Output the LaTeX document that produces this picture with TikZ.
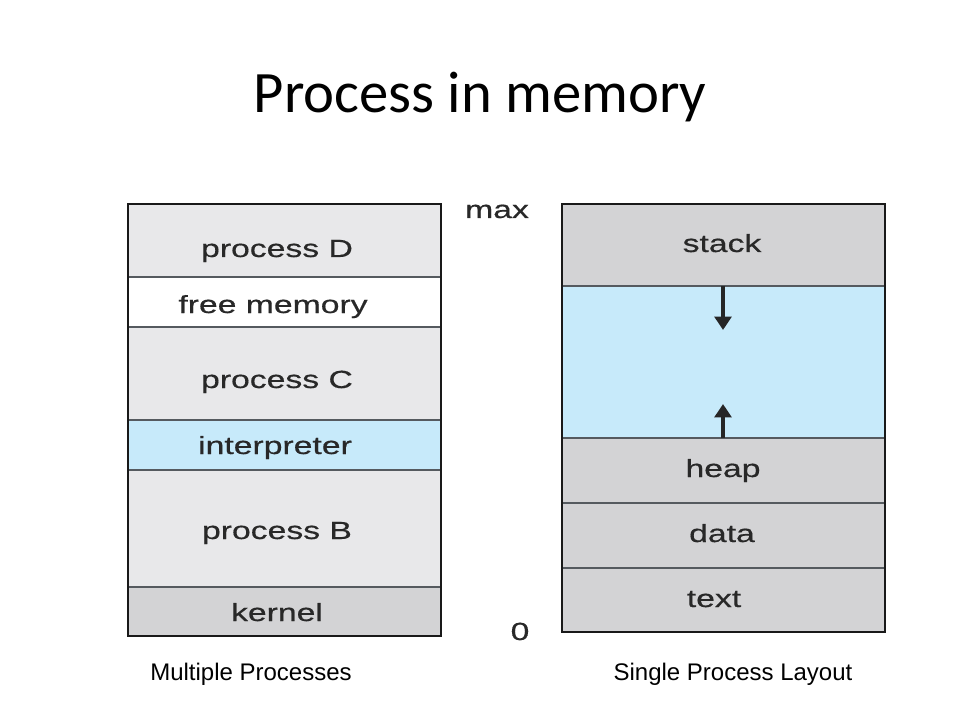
\documentclass[tikz,border=0pt]{standalone}
\usepackage{fontspec}
\setmainfont{Liberation Sans}
\newfontfamily\titlefont{Carlito}
\newfontfamily\labfont[FakeStretch=1.36,FakeBold=0.5]{Liberation Sans}
\usetikzlibrary{arrows.meta}
\definecolor{lgray}{RGB}{232,232,234}
\definecolor{dgray}{RGB}{211,211,213}
\definecolor{lblue}{RGB}{199,234,250}
\definecolor{divline}{RGB}{85,90,95}
\definecolor{labtext}{RGB}{40,40,40}
\tikzset{
  seglabel/.style={font=\labfont\fontsize{18.6}{21}\selectfont, text=labtext, inner sep=0pt, anchor=base},
  divider/.style={draw=divline, line width=1.3pt},
  outerbox/.style={draw=black!90, line width=1.4pt},
  growarrow/.style={draw=black!85, line width=2.6pt, -{Triangle[width=12.5pt,length=10pt]}},
  caption/.style={font=\fontsize{18}{21}\selectfont, text=black, inner sep=0pt, anchor=base}
}
\begin{document}
\begin{tikzpicture}[x=0.75pt,y=-0.75pt]
\useasboundingbox (0,0) rectangle (960,720);
\fill[white] (0,0) rectangle (960,720);

% title
\node[font=\titlefont\fontsize{44}{50}\selectfont, inner sep=0pt, anchor=base] (title) at (480,113) {Process in memory};

% ---------- left column: multiple processes ----------
\fill[lgray] (128,204) rectangle (441,277);
\fill[white] (128,277) rectangle (441,327);
\fill[lgray] (128,327) rectangle (441,420);
\fill[lblue] (128,420) rectangle (441,470);
\fill[lgray] (128,470) rectangle (441,587);
\fill[dgray] (128,587) rectangle (441,636);
\draw[divider] (128,277) -- (441,277);
\draw[divider] (128,327) -- (441,327);
\draw[divider] (128,420) -- (441,420);
\draw[divider] (128,470) -- (441,470);
\draw[divider] (128,587) -- (441,587);
\draw[outerbox] (128,204) rectangle (441,636);

\node[seglabel] (pD) at (277,257) {process D};
\node[seglabel] (free) at (273,313) {free memory};
\node[seglabel] (pC) at (277,388) {process C};
\node[seglabel] (interp) at (275,454) {interpreter};
\node[seglabel] (pB) at (277,539) {process B};
\node[seglabel] (kern) at (277,621) {kernel};

% ---------- right column: single process layout ----------
\fill[dgray] (562,204) rectangle (885,286);
\fill[lblue] (562,286) rectangle (885,438);
\fill[dgray] (562,438) rectangle (885,632);
\draw[divider] (562,286) -- (885,286);
\draw[divider] (562,438) -- (885,438);
\draw[divider] (562,503) -- (885,503);
\draw[divider] (562,568) -- (885,568);
\draw[outerbox] (562,204) rectangle (885,632);

\node[seglabel] (stack) at (722,252) {stack};
\node[seglabel] (heap) at (723,477) {heap};
\node[seglabel] (data) at (722,542) {data};
\node[seglabel] (txt) at (714,607) {text};

\coordinate (stacktop) at (723,286);
\coordinate (stacktip) at (723,330);
\coordinate (heaptop) at (723,438);
\coordinate (heaptip) at (723,404);
\draw[growarrow] (stacktop) -- (stacktip);
\draw[growarrow] (heaptop) -- (heaptip);

\node[seglabel] (maxlab) at (497,218) {max};
\node[seglabel] (zerolab) at (520,640) {0};

% captions
\node[caption] (capL) at (251,680) {Multiple Processes};
\node[caption] (capR) at (733,680) {Single Process Layout};
\end{tikzpicture}
\end{document}
